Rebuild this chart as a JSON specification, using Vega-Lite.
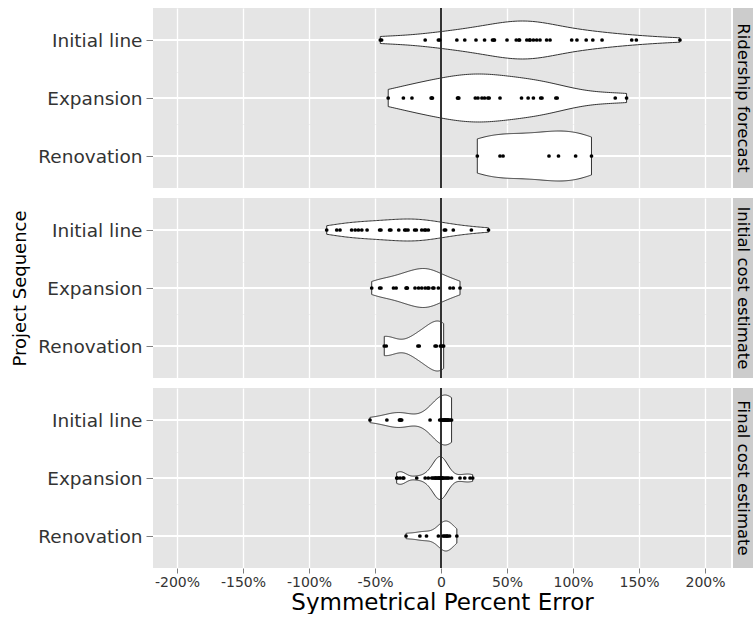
{
  "$schema": "https://vega.github.io/schema/vega-lite/v6.json",
  "padding": {"left": 11, "top": 7, "right": 0, "bottom": 0},
  "background": "white",
  "datasets": {
    "d": [
      {"panel": "Ridership forecast", "seq": "Initial line", "v": -46},
      {"panel": "Ridership forecast", "seq": "Initial line", "v": -45},
      {"panel": "Ridership forecast", "seq": "Initial line", "v": -12},
      {"panel": "Ridership forecast", "seq": "Initial line", "v": -2},
      {"panel": "Ridership forecast", "seq": "Initial line", "v": -1},
      {"panel": "Ridership forecast", "seq": "Initial line", "v": 12},
      {"panel": "Ridership forecast", "seq": "Initial line", "v": 18},
      {"panel": "Ridership forecast", "seq": "Initial line", "v": 26.5},
      {"panel": "Ridership forecast", "seq": "Initial line", "v": 33},
      {"panel": "Ridership forecast", "seq": "Initial line", "v": 39},
      {"panel": "Ridership forecast", "seq": "Initial line", "v": 40},
      {"panel": "Ridership forecast", "seq": "Initial line", "v": 40.5},
      {"panel": "Ridership forecast", "seq": "Initial line", "v": 50},
      {"panel": "Ridership forecast", "seq": "Initial line", "v": 57},
      {"panel": "Ridership forecast", "seq": "Initial line", "v": 59},
      {"panel": "Ridership forecast", "seq": "Initial line", "v": 59.5},
      {"panel": "Ridership forecast", "seq": "Initial line", "v": 65},
      {"panel": "Ridership forecast", "seq": "Initial line", "v": 67},
      {"panel": "Ridership forecast", "seq": "Initial line", "v": 67.5},
      {"panel": "Ridership forecast", "seq": "Initial line", "v": 70},
      {"panel": "Ridership forecast", "seq": "Initial line", "v": 72.5},
      {"panel": "Ridership forecast", "seq": "Initial line", "v": 75},
      {"panel": "Ridership forecast", "seq": "Initial line", "v": 80},
      {"panel": "Ridership forecast", "seq": "Initial line", "v": 82.6},
      {"panel": "Ridership forecast", "seq": "Initial line", "v": 99},
      {"panel": "Ridership forecast", "seq": "Initial line", "v": 103},
      {"panel": "Ridership forecast", "seq": "Initial line", "v": 110},
      {"panel": "Ridership forecast", "seq": "Initial line", "v": 115},
      {"panel": "Ridership forecast", "seq": "Initial line", "v": 122},
      {"panel": "Ridership forecast", "seq": "Initial line", "v": 144.5},
      {"panel": "Ridership forecast", "seq": "Initial line", "v": 148},
      {"panel": "Ridership forecast", "seq": "Initial line", "v": 181},
      {"panel": "Ridership forecast", "seq": "Expansion", "v": -40},
      {"panel": "Ridership forecast", "seq": "Expansion", "v": -28.5},
      {"panel": "Ridership forecast", "seq": "Expansion", "v": -22},
      {"panel": "Ridership forecast", "seq": "Expansion", "v": -7.5},
      {"panel": "Ridership forecast", "seq": "Expansion", "v": -7},
      {"panel": "Ridership forecast", "seq": "Expansion", "v": -6.5},
      {"panel": "Ridership forecast", "seq": "Expansion", "v": 12.5},
      {"panel": "Ridership forecast", "seq": "Expansion", "v": 13},
      {"panel": "Ridership forecast", "seq": "Expansion", "v": 13.5},
      {"panel": "Ridership forecast", "seq": "Expansion", "v": 26},
      {"panel": "Ridership forecast", "seq": "Expansion", "v": 28},
      {"panel": "Ridership forecast", "seq": "Expansion", "v": 31},
      {"panel": "Ridership forecast", "seq": "Expansion", "v": 33},
      {"panel": "Ridership forecast", "seq": "Expansion", "v": 35.5},
      {"panel": "Ridership forecast", "seq": "Expansion", "v": 36.5},
      {"panel": "Ridership forecast", "seq": "Expansion", "v": 44.7},
      {"panel": "Ridership forecast", "seq": "Expansion", "v": 61},
      {"panel": "Ridership forecast", "seq": "Expansion", "v": 66},
      {"panel": "Ridership forecast", "seq": "Expansion", "v": 70},
      {"panel": "Ridership forecast", "seq": "Expansion", "v": 75.5},
      {"panel": "Ridership forecast", "seq": "Expansion", "v": 76.5},
      {"panel": "Ridership forecast", "seq": "Expansion", "v": 87},
      {"panel": "Ridership forecast", "seq": "Expansion", "v": 88},
      {"panel": "Ridership forecast", "seq": "Expansion", "v": 132},
      {"panel": "Ridership forecast", "seq": "Expansion", "v": 140.6},
      {"panel": "Ridership forecast", "seq": "Renovation", "v": 27.5},
      {"panel": "Ridership forecast", "seq": "Renovation", "v": 44.7},
      {"panel": "Ridership forecast", "seq": "Renovation", "v": 47},
      {"panel": "Ridership forecast", "seq": "Renovation", "v": 81.8},
      {"panel": "Ridership forecast", "seq": "Renovation", "v": 89},
      {"panel": "Ridership forecast", "seq": "Renovation", "v": 102},
      {"panel": "Ridership forecast", "seq": "Renovation", "v": 114},
      {"panel": "Initial cost estimate", "seq": "Initial line", "v": -86.6},
      {"panel": "Initial cost estimate", "seq": "Initial line", "v": -79},
      {"panel": "Initial cost estimate", "seq": "Initial line", "v": -76.5},
      {"panel": "Initial cost estimate", "seq": "Initial line", "v": -67.7},
      {"panel": "Initial cost estimate", "seq": "Initial line", "v": -65},
      {"panel": "Initial cost estimate", "seq": "Initial line", "v": -62.6},
      {"panel": "Initial cost estimate", "seq": "Initial line", "v": -60},
      {"panel": "Initial cost estimate", "seq": "Initial line", "v": -56},
      {"panel": "Initial cost estimate", "seq": "Initial line", "v": -46.5},
      {"panel": "Initial cost estimate", "seq": "Initial line", "v": -45.5},
      {"panel": "Initial cost estimate", "seq": "Initial line", "v": -39},
      {"panel": "Initial cost estimate", "seq": "Initial line", "v": -38},
      {"panel": "Initial cost estimate", "seq": "Initial line", "v": -32},
      {"panel": "Initial cost estimate", "seq": "Initial line", "v": -27.5},
      {"panel": "Initial cost estimate", "seq": "Initial line", "v": -26.5},
      {"panel": "Initial cost estimate", "seq": "Initial line", "v": -25},
      {"panel": "Initial cost estimate", "seq": "Initial line", "v": -20},
      {"panel": "Initial cost estimate", "seq": "Initial line", "v": -18.7},
      {"panel": "Initial cost estimate", "seq": "Initial line", "v": -14.6},
      {"panel": "Initial cost estimate", "seq": "Initial line", "v": -12.5},
      {"panel": "Initial cost estimate", "seq": "Initial line", "v": -11.5},
      {"panel": "Initial cost estimate", "seq": "Initial line", "v": -9.6},
      {"panel": "Initial cost estimate", "seq": "Initial line", "v": 2.5},
      {"panel": "Initial cost estimate", "seq": "Initial line", "v": 3.5},
      {"panel": "Initial cost estimate", "seq": "Initial line", "v": 9.3},
      {"panel": "Initial cost estimate", "seq": "Initial line", "v": 23},
      {"panel": "Initial cost estimate", "seq": "Initial line", "v": 36},
      {"panel": "Initial cost estimate", "seq": "Expansion", "v": -52.5},
      {"panel": "Initial cost estimate", "seq": "Expansion", "v": -46.5},
      {"panel": "Initial cost estimate", "seq": "Expansion", "v": -45.5},
      {"panel": "Initial cost estimate", "seq": "Expansion", "v": -36},
      {"panel": "Initial cost estimate", "seq": "Expansion", "v": -34},
      {"panel": "Initial cost estimate", "seq": "Expansion", "v": -26.5},
      {"panel": "Initial cost estimate", "seq": "Expansion", "v": -26},
      {"panel": "Initial cost estimate", "seq": "Expansion", "v": -25.5},
      {"panel": "Initial cost estimate", "seq": "Expansion", "v": -19.7},
      {"panel": "Initial cost estimate", "seq": "Expansion", "v": -17},
      {"panel": "Initial cost estimate", "seq": "Expansion", "v": -14.6},
      {"panel": "Initial cost estimate", "seq": "Expansion", "v": -12},
      {"panel": "Initial cost estimate", "seq": "Expansion", "v": -10},
      {"panel": "Initial cost estimate", "seq": "Expansion", "v": -9.2},
      {"panel": "Initial cost estimate", "seq": "Expansion", "v": -6.2},
      {"panel": "Initial cost estimate", "seq": "Expansion", "v": -5.4},
      {"panel": "Initial cost estimate", "seq": "Expansion", "v": -2},
      {"panel": "Initial cost estimate", "seq": "Expansion", "v": 6.8},
      {"panel": "Initial cost estimate", "seq": "Expansion", "v": 9.3},
      {"panel": "Initial cost estimate", "seq": "Expansion", "v": 14.4},
      {"panel": "Initial cost estimate", "seq": "Renovation", "v": -43},
      {"panel": "Initial cost estimate", "seq": "Renovation", "v": -41.5},
      {"panel": "Initial cost estimate", "seq": "Renovation", "v": -17.5},
      {"panel": "Initial cost estimate", "seq": "Renovation", "v": -16.5},
      {"panel": "Initial cost estimate", "seq": "Renovation", "v": -4.5},
      {"panel": "Initial cost estimate", "seq": "Renovation", "v": -3.5},
      {"panel": "Initial cost estimate", "seq": "Renovation", "v": -0.5},
      {"panel": "Initial cost estimate", "seq": "Renovation", "v": 1},
      {"panel": "Initial cost estimate", "seq": "Renovation", "v": 2},
      {"panel": "Final cost estimate", "seq": "Initial line", "v": -53.8},
      {"panel": "Final cost estimate", "seq": "Initial line", "v": -41},
      {"panel": "Final cost estimate", "seq": "Initial line", "v": -31.5},
      {"panel": "Final cost estimate", "seq": "Initial line", "v": -31},
      {"panel": "Final cost estimate", "seq": "Initial line", "v": -30.5},
      {"panel": "Final cost estimate", "seq": "Initial line", "v": -29.8},
      {"panel": "Final cost estimate", "seq": "Initial line", "v": -8.3},
      {"panel": "Final cost estimate", "seq": "Initial line", "v": -1},
      {"panel": "Final cost estimate", "seq": "Initial line", "v": 0},
      {"panel": "Final cost estimate", "seq": "Initial line", "v": 1},
      {"panel": "Final cost estimate", "seq": "Initial line", "v": 1.5},
      {"panel": "Final cost estimate", "seq": "Initial line", "v": 2},
      {"panel": "Final cost estimate", "seq": "Initial line", "v": 2.5},
      {"panel": "Final cost estimate", "seq": "Initial line", "v": 3},
      {"panel": "Final cost estimate", "seq": "Initial line", "v": 3},
      {"panel": "Final cost estimate", "seq": "Initial line", "v": 3.5},
      {"panel": "Final cost estimate", "seq": "Initial line", "v": 4},
      {"panel": "Final cost estimate", "seq": "Initial line", "v": 4.5},
      {"panel": "Final cost estimate", "seq": "Initial line", "v": 5},
      {"panel": "Final cost estimate", "seq": "Initial line", "v": 5.5},
      {"panel": "Final cost estimate", "seq": "Initial line", "v": 6},
      {"panel": "Final cost estimate", "seq": "Initial line", "v": 7},
      {"panel": "Final cost estimate", "seq": "Initial line", "v": 8},
      {"panel": "Final cost estimate", "seq": "Expansion", "v": -33.6},
      {"panel": "Final cost estimate", "seq": "Expansion", "v": -33},
      {"panel": "Final cost estimate", "seq": "Expansion", "v": -31},
      {"panel": "Final cost estimate", "seq": "Expansion", "v": -28.8},
      {"panel": "Final cost estimate", "seq": "Expansion", "v": -28.2},
      {"panel": "Final cost estimate", "seq": "Expansion", "v": -18.4},
      {"panel": "Final cost estimate", "seq": "Expansion", "v": -12},
      {"panel": "Final cost estimate", "seq": "Expansion", "v": -9.6},
      {"panel": "Final cost estimate", "seq": "Expansion", "v": -7},
      {"panel": "Final cost estimate", "seq": "Expansion", "v": -6},
      {"panel": "Final cost estimate", "seq": "Expansion", "v": -5},
      {"panel": "Final cost estimate", "seq": "Expansion", "v": -4},
      {"panel": "Final cost estimate", "seq": "Expansion", "v": -4},
      {"panel": "Final cost estimate", "seq": "Expansion", "v": -3},
      {"panel": "Final cost estimate", "seq": "Expansion", "v": -2},
      {"panel": "Final cost estimate", "seq": "Expansion", "v": -2},
      {"panel": "Final cost estimate", "seq": "Expansion", "v": -1},
      {"panel": "Final cost estimate", "seq": "Expansion", "v": -1},
      {"panel": "Final cost estimate", "seq": "Expansion", "v": 0},
      {"panel": "Final cost estimate", "seq": "Expansion", "v": 0},
      {"panel": "Final cost estimate", "seq": "Expansion", "v": 0.5},
      {"panel": "Final cost estimate", "seq": "Expansion", "v": 1},
      {"panel": "Final cost estimate", "seq": "Expansion", "v": 1},
      {"panel": "Final cost estimate", "seq": "Expansion", "v": 2},
      {"panel": "Final cost estimate", "seq": "Expansion", "v": 3},
      {"panel": "Final cost estimate", "seq": "Expansion", "v": 4},
      {"panel": "Final cost estimate", "seq": "Expansion", "v": 5},
      {"panel": "Final cost estimate", "seq": "Expansion", "v": 6},
      {"panel": "Final cost estimate", "seq": "Expansion", "v": 8},
      {"panel": "Final cost estimate", "seq": "Expansion", "v": 14.4},
      {"panel": "Final cost estimate", "seq": "Expansion", "v": 18},
      {"panel": "Final cost estimate", "seq": "Expansion", "v": 22},
      {"panel": "Final cost estimate", "seq": "Expansion", "v": 24},
      {"panel": "Final cost estimate", "seq": "Renovation", "v": -26.5},
      {"panel": "Final cost estimate", "seq": "Renovation", "v": -16},
      {"panel": "Final cost estimate", "seq": "Renovation", "v": -11},
      {"panel": "Final cost estimate", "seq": "Renovation", "v": -2},
      {"panel": "Final cost estimate", "seq": "Renovation", "v": 1.5},
      {"panel": "Final cost estimate", "seq": "Renovation", "v": 2.5},
      {"panel": "Final cost estimate", "seq": "Renovation", "v": 3.5},
      {"panel": "Final cost estimate", "seq": "Renovation", "v": 4.5},
      {"panel": "Final cost estimate", "seq": "Renovation", "v": 5},
      {"panel": "Final cost estimate", "seq": "Renovation", "v": 6.5},
      {"panel": "Final cost estimate", "seq": "Renovation", "v": 12}
    ]
  },
  "config": {
    "view": {"fill": "#E5E5E5", "stroke": null},
    "font": "DejaVu Sans",
    "axisY": {"orient": "left", "grid": false, "domain": false, "ticks": true, "tickColor": "#7F7F7F", "tickSize": 7, "labelFontSize": 18.5, "labelColor": "#333333", "labelPadding": 4, "minExtent": 118, "maxExtent": 118, "titleFontSize": 18, "titleFontWeight": "normal", "titlePadding": 6, "titleColor": "black"},
    "area": {"fill": "white", "stroke": "#333333", "strokeWidth": 1},
    "circle": {"color": "black", "size": 14, "opacity": 1},
    "text": {"fontSize": 16.5, "color": "black", "angle": 90}
  },
  "spacing": 8,
  "vconcat": [
    {
      "spacing": 1,
      "hconcat": [
        {
          "bounds": "flush", "spacing": 0,
          "vconcat": [
            {
              "width": 578, "height": 64,
              "data": {"name": "d"},
              "transform": [{"filter": "datum.panel === 'Ridership forecast' && datum.seq === 'Initial line'"}],
              "layer": [
                {"mark": {"type": "rule", "color": "white", "strokeWidth": 1.3},
                 "encoding": {"x": {"datum": -218.2, "type": "quantitative", "scale": {"domain": [-218.2, 219.7], "nice": false, "zero": false}, "axis": {"values": [-200, -175, -150, -125, -100, -75, -50, -25, 0, 25, 50, 75, 100, 125, 150, 175, 200], "labels": false, "ticks": false, "domain": false, "title": null, "grid": true, "gridColor": {"condition": {"test": "datum.value % 50 === 0", "value": "white"}, "value": "#F2F2F2"}, "gridWidth": {"condition": {"test": "datum.value % 50 === 0", "value": 1.3}, "value": 0.6}}},
                              "x2": {"datum": 219.7},
                              "y": {"field": "seq", "type": "nominal", "scale": {"type": "point"}, "axis": {"title": " "}}}},
                {"transform": [{"density": "v", "groupby": ["seq"], "as": ["v", "density"], "steps": 120}], "mark": "area",
                 "encoding": {"x": {"field": "v", "type": "quantitative"},
                              "y": {"field": "density", "type": "quantitative", "stack": "center", "scale": {"range": [51, 13], "nice": false, "zero": true}, "axis": null}}},
                {"mark": {"type": "rule", "color": "#333333", "strokeWidth": 1}, "encoding": {"x": {"datum": 0, "type": "quantitative"}}},
                {"mark": "circle", "encoding": {"x": {"field": "v", "type": "quantitative"}}}
              ],
              "resolve": {"scale": {"y": "independent"}}
            },
            {
              "width": 578, "height": 52,
              "data": {"name": "d"},
              "transform": [{"filter": "datum.panel === 'Ridership forecast' && datum.seq === 'Expansion'"}],
              "layer": [
                {"mark": {"type": "rule", "color": "white", "strokeWidth": 1.3},
                 "encoding": {"x": {"datum": -218.2, "type": "quantitative", "scale": {"domain": [-218.2, 219.7], "nice": false, "zero": false}, "axis": {"values": [-200, -175, -150, -125, -100, -75, -50, -25, 0, 25, 50, 75, 100, 125, 150, 175, 200], "labels": false, "ticks": false, "domain": false, "title": null, "grid": true, "gridColor": {"condition": {"test": "datum.value % 50 === 0", "value": "white"}, "value": "#F2F2F2"}, "gridWidth": {"condition": {"test": "datum.value % 50 === 0", "value": 1.3}, "value": 0.6}}},
                              "x2": {"datum": 219.7},
                              "y": {"field": "seq", "type": "nominal", "scale": {"type": "point"}, "axis": {"title": " "}}}},
                {"transform": [{"density": "v", "groupby": ["seq"], "as": ["v", "density"], "steps": 120}], "mark": "area",
                 "encoding": {"x": {"field": "v", "type": "quantitative"},
                              "y": {"field": "density", "type": "quantitative", "stack": "center", "scale": {"range": [50, 2], "nice": false, "zero": true}, "axis": null}}},
                {"mark": {"type": "rule", "color": "#333333", "strokeWidth": 1}, "encoding": {"x": {"datum": 0, "type": "quantitative"}}},
                {"mark": "circle", "encoding": {"x": {"field": "v", "type": "quantitative"}}}
              ],
              "resolve": {"scale": {"y": "independent"}}
            },
            {
              "width": 578, "height": 64,
              "data": {"name": "d"},
              "transform": [{"filter": "datum.panel === 'Ridership forecast' && datum.seq === 'Renovation'"}],
              "layer": [
                {"mark": {"type": "rule", "color": "white", "strokeWidth": 1.3},
                 "encoding": {"x": {"datum": -218.2, "type": "quantitative", "scale": {"domain": [-218.2, 219.7], "nice": false, "zero": false}, "axis": {"values": [-200, -175, -150, -125, -100, -75, -50, -25, 0, 25, 50, 75, 100, 125, 150, 175, 200], "labels": false, "ticks": false, "domain": false, "title": null, "grid": true, "gridColor": {"condition": {"test": "datum.value % 50 === 0", "value": "white"}, "value": "#F2F2F2"}, "gridWidth": {"condition": {"test": "datum.value % 50 === 0", "value": 1.3}, "value": 0.6}}},
                              "x2": {"datum": 219.7},
                              "y": {"field": "seq", "type": "nominal", "scale": {"type": "point"}, "axis": {"title": " "}}}},
                {"transform": [{"density": "v", "groupby": ["seq"], "as": ["v", "density"], "steps": 120}], "mark": "area",
                 "encoding": {"x": {"field": "v", "type": "quantitative"},
                              "y": {"field": "density", "type": "quantitative", "stack": "center", "scale": {"range": [57, 7], "nice": false, "zero": true}, "axis": null}}},
                {"mark": {"type": "rule", "color": "#333333", "strokeWidth": 1}, "encoding": {"x": {"datum": 0, "type": "quantitative"}}},
                {"mark": "circle", "encoding": {"x": {"field": "v", "type": "quantitative"}}}
              ],
              "resolve": {"scale": {"y": "independent"}}
            }
          ]
        },
        {
          "data": {"name": "d"},
          "transform": [{"filter": "datum.panel === 'Ridership forecast'"}, {"aggregate": [{"op": "count", "as": "n"}], "groupby": ["panel"]}],
          "width": 20, "height": 180,
          "view": {"fill": "#CCCCCC", "stroke": null},
          "mark": "text",
          "encoding": {"text": {"field": "panel", "type": "nominal"}}
        }
      ]
    },
    {
      "spacing": 1,
      "hconcat": [
        {
          "bounds": "flush", "spacing": 0,
          "vconcat": [
            {
              "width": 578, "height": 64,
              "data": {"name": "d"},
              "transform": [{"filter": "datum.panel === 'Initial cost estimate' && datum.seq === 'Initial line'"}],
              "layer": [
                {"mark": {"type": "rule", "color": "white", "strokeWidth": 1.3},
                 "encoding": {"x": {"datum": -218.2, "type": "quantitative", "scale": {"domain": [-218.2, 219.7], "nice": false, "zero": false}, "axis": {"values": [-200, -175, -150, -125, -100, -75, -50, -25, 0, 25, 50, 75, 100, 125, 150, 175, 200], "labels": false, "ticks": false, "domain": false, "title": null, "grid": true, "gridColor": {"condition": {"test": "datum.value % 50 === 0", "value": "white"}, "value": "#F2F2F2"}, "gridWidth": {"condition": {"test": "datum.value % 50 === 0", "value": 1.3}, "value": 0.6}}},
                              "x2": {"datum": 219.7},
                              "y": {"field": "seq", "type": "nominal", "scale": {"type": "point"}, "axis": {"title": " "}}}},
                {"transform": [{"density": "v", "groupby": ["seq"], "as": ["v", "density"], "steps": 120}], "mark": "area",
                 "encoding": {"x": {"field": "v", "type": "quantitative"},
                              "y": {"field": "density", "type": "quantitative", "stack": "center", "scale": {"range": [43, 21], "nice": false, "zero": true}, "axis": null}}},
                {"mark": {"type": "rule", "color": "#333333", "strokeWidth": 1}, "encoding": {"x": {"datum": 0, "type": "quantitative"}}},
                {"mark": "circle", "encoding": {"x": {"field": "v", "type": "quantitative"}}}
              ],
              "resolve": {"scale": {"y": "independent"}}
            },
            {
              "width": 578, "height": 52,
              "data": {"name": "d"},
              "transform": [{"filter": "datum.panel === 'Initial cost estimate' && datum.seq === 'Expansion'"}],
              "layer": [
                {"mark": {"type": "rule", "color": "white", "strokeWidth": 1.3},
                 "encoding": {"x": {"datum": -218.2, "type": "quantitative", "scale": {"domain": [-218.2, 219.7], "nice": false, "zero": false}, "axis": {"values": [-200, -175, -150, -125, -100, -75, -50, -25, 0, 25, 50, 75, 100, 125, 150, 175, 200], "labels": false, "ticks": false, "domain": false, "title": null, "grid": true, "gridColor": {"condition": {"test": "datum.value % 50 === 0", "value": "white"}, "value": "#F2F2F2"}, "gridWidth": {"condition": {"test": "datum.value % 50 === 0", "value": 1.3}, "value": 0.6}}},
                              "x2": {"datum": 219.7},
                              "y": {"field": "seq", "type": "nominal", "scale": {"type": "point"}, "axis": {"title": "Project Sequence"}}}},
                {"transform": [{"density": "v", "groupby": ["seq"], "as": ["v", "density"], "steps": 120}], "mark": "area",
                 "encoding": {"x": {"field": "v", "type": "quantitative"},
                              "y": {"field": "density", "type": "quantitative", "stack": "center", "scale": {"range": [45.5, 6.5], "nice": false, "zero": true}, "axis": null}}},
                {"mark": {"type": "rule", "color": "#333333", "strokeWidth": 1}, "encoding": {"x": {"datum": 0, "type": "quantitative"}}},
                {"mark": "circle", "encoding": {"x": {"field": "v", "type": "quantitative"}}}
              ],
              "resolve": {"scale": {"y": "independent"}}
            },
            {
              "width": 578, "height": 64,
              "data": {"name": "d"},
              "transform": [{"filter": "datum.panel === 'Initial cost estimate' && datum.seq === 'Renovation'"}],
              "layer": [
                {"mark": {"type": "rule", "color": "white", "strokeWidth": 1.3},
                 "encoding": {"x": {"datum": -218.2, "type": "quantitative", "scale": {"domain": [-218.2, 219.7], "nice": false, "zero": false}, "axis": {"values": [-200, -175, -150, -125, -100, -75, -50, -25, 0, 25, 50, 75, 100, 125, 150, 175, 200], "labels": false, "ticks": false, "domain": false, "title": null, "grid": true, "gridColor": {"condition": {"test": "datum.value % 50 === 0", "value": "white"}, "value": "#F2F2F2"}, "gridWidth": {"condition": {"test": "datum.value % 50 === 0", "value": 1.3}, "value": 0.6}}},
                              "x2": {"datum": 219.7},
                              "y": {"field": "seq", "type": "nominal", "scale": {"type": "point"}, "axis": {"title": " "}}}},
                {"transform": [{"density": "v", "groupby": ["seq"], "as": ["v", "density"], "steps": 120}], "mark": "area",
                 "encoding": {"x": {"field": "v", "type": "quantitative"},
                              "y": {"field": "density", "type": "quantitative", "stack": "center", "scale": {"range": [57, 7], "nice": false, "zero": true}, "axis": null}}},
                {"mark": {"type": "rule", "color": "#333333", "strokeWidth": 1}, "encoding": {"x": {"datum": 0, "type": "quantitative"}}},
                {"mark": "circle", "encoding": {"x": {"field": "v", "type": "quantitative"}}}
              ],
              "resolve": {"scale": {"y": "independent"}}
            }
          ]
        },
        {
          "data": {"name": "d"},
          "transform": [{"filter": "datum.panel === 'Initial cost estimate'"}, {"aggregate": [{"op": "count", "as": "n"}], "groupby": ["panel"]}],
          "width": 20, "height": 180,
          "view": {"fill": "#CCCCCC", "stroke": null},
          "mark": "text",
          "encoding": {"text": {"field": "panel", "type": "nominal"}}
        }
      ]
    },
    {
      "spacing": 1,
      "hconcat": [
        {
          "bounds": "flush", "spacing": 0,
          "vconcat": [
            {
              "width": 578, "height": 64,
              "data": {"name": "d"},
              "transform": [{"filter": "datum.panel === 'Final cost estimate' && datum.seq === 'Initial line'"}],
              "layer": [
                {"mark": {"type": "rule", "color": "white", "strokeWidth": 1.3},
                 "encoding": {"x": {"datum": -218.2, "type": "quantitative", "scale": {"domain": [-218.2, 219.7], "nice": false, "zero": false}, "axis": {"values": [-200, -175, -150, -125, -100, -75, -50, -25, 0, 25, 50, 75, 100, 125, 150, 175, 200], "labels": false, "ticks": false, "domain": false, "title": null, "grid": true, "gridColor": {"condition": {"test": "datum.value % 50 === 0", "value": "white"}, "value": "#F2F2F2"}, "gridWidth": {"condition": {"test": "datum.value % 50 === 0", "value": 1.3}, "value": 0.6}}},
                              "x2": {"datum": 219.7},
                              "y": {"field": "seq", "type": "nominal", "scale": {"type": "point"}, "axis": {"title": " "}}}},
                {"transform": [{"density": "v", "groupby": ["seq"], "as": ["v", "density"], "steps": 120}], "mark": "area",
                 "encoding": {"x": {"field": "v", "type": "quantitative"},
                              "y": {"field": "density", "type": "quantitative", "stack": "center", "scale": {"range": [57, 7], "nice": false, "zero": true}, "axis": null}}},
                {"mark": {"type": "rule", "color": "#333333", "strokeWidth": 1}, "encoding": {"x": {"datum": 0, "type": "quantitative"}}},
                {"mark": "circle", "encoding": {"x": {"field": "v", "type": "quantitative"}}}
              ],
              "resolve": {"scale": {"y": "independent"}}
            },
            {
              "width": 578, "height": 52,
              "data": {"name": "d"},
              "transform": [{"filter": "datum.panel === 'Final cost estimate' && datum.seq === 'Expansion'"}],
              "layer": [
                {"mark": {"type": "rule", "color": "white", "strokeWidth": 1.3},
                 "encoding": {"x": {"datum": -218.2, "type": "quantitative", "scale": {"domain": [-218.2, 219.7], "nice": false, "zero": false}, "axis": {"values": [-200, -175, -150, -125, -100, -75, -50, -25, 0, 25, 50, 75, 100, 125, 150, 175, 200], "labels": false, "ticks": false, "domain": false, "title": null, "grid": true, "gridColor": {"condition": {"test": "datum.value % 50 === 0", "value": "white"}, "value": "#F2F2F2"}, "gridWidth": {"condition": {"test": "datum.value % 50 === 0", "value": 1.3}, "value": 0.6}}},
                              "x2": {"datum": 219.7},
                              "y": {"field": "seq", "type": "nominal", "scale": {"type": "point"}, "axis": {"title": " "}}}},
                {"transform": [{"density": "v", "groupby": ["seq"], "as": ["v", "density"], "steps": 120}], "mark": "area",
                 "encoding": {"x": {"field": "v", "type": "quantitative"},
                              "y": {"field": "density", "type": "quantitative", "stack": "center", "scale": {"range": [47.5, 4.5], "nice": false, "zero": true}, "axis": null}}},
                {"mark": {"type": "rule", "color": "#333333", "strokeWidth": 1}, "encoding": {"x": {"datum": 0, "type": "quantitative"}}},
                {"mark": "circle", "encoding": {"x": {"field": "v", "type": "quantitative"}}}
              ],
              "resolve": {"scale": {"y": "independent"}}
            },
            {
              "width": 578, "height": 64,
              "data": {"name": "d"},
              "transform": [{"filter": "datum.panel === 'Final cost estimate' && datum.seq === 'Renovation'"}],
              "layer": [
                {"mark": {"type": "rule", "color": "white", "strokeWidth": 1.3},
                 "encoding": {"x": {"datum": -218.2, "type": "quantitative", "scale": {"domain": [-218.2, 219.7], "nice": false, "zero": false},
                   "axis": {"values": [-200, -175, -150, -125, -100, -75, -50, -25, 0, 25, 50, 75, 100, 125, 150, 175, 200], "grid": true, "domain": false,
                     "gridColor": {"condition": {"test": "datum.value % 50 === 0", "value": "white"}, "value": "#F2F2F2"}, "gridWidth": {"condition": {"test": "datum.value % 50 === 0", "value": 1.3}, "value": 0.6},
                     "labelExpr": "datum.value === 0 ? '0' : (datum.value % 50 === 0 ? datum.value + '%' : '')", "labelOverlap": false, "labelFlush": false, "labelFontSize": 14, "labelColor": "#333333", "labelPadding": 2,
                     "ticks": true, "tickColor": "#7F7F7F", "tickSize": 5, "tickOpacity": {"condition": {"test": "datum.value % 50 === 0", "value": 1}, "value": 0},
                     "title": "Symmetrical Percent Error", "titleFontSize": 23, "titleFontWeight": "normal", "titleColor": "black", "titlePadding": 2}},
                              "x2": {"datum": 219.7},
                              "y": {"field": "seq", "type": "nominal", "scale": {"type": "point"}, "axis": {"title": " "}}}},
                {"transform": [{"density": "v", "groupby": ["seq"], "as": ["v", "density"], "steps": 120}], "mark": "area",
                 "encoding": {"x": {"field": "v", "type": "quantitative"},
                              "y": {"field": "density", "type": "quantitative", "stack": "center", "scale": {"range": [47, 17], "nice": false, "zero": true}, "axis": null}}},
                {"mark": {"type": "rule", "color": "#333333", "strokeWidth": 1}, "encoding": {"x": {"datum": 0, "type": "quantitative"}}},
                {"mark": "circle", "encoding": {"x": {"field": "v", "type": "quantitative"}}}
              ],
              "resolve": {"scale": {"y": "independent"}}
            }
          ]
        },
        {
          "data": {"name": "d"},
          "transform": [{"filter": "datum.panel === 'Final cost estimate'"}, {"aggregate": [{"op": "count", "as": "n"}], "groupby": ["panel"]}],
          "width": 20, "height": 180,
          "view": {"fill": "#CCCCCC", "stroke": null},
          "mark": "text",
          "encoding": {"text": {"field": "panel", "type": "nominal"}}
        }
      ]
    }
  ]
}
